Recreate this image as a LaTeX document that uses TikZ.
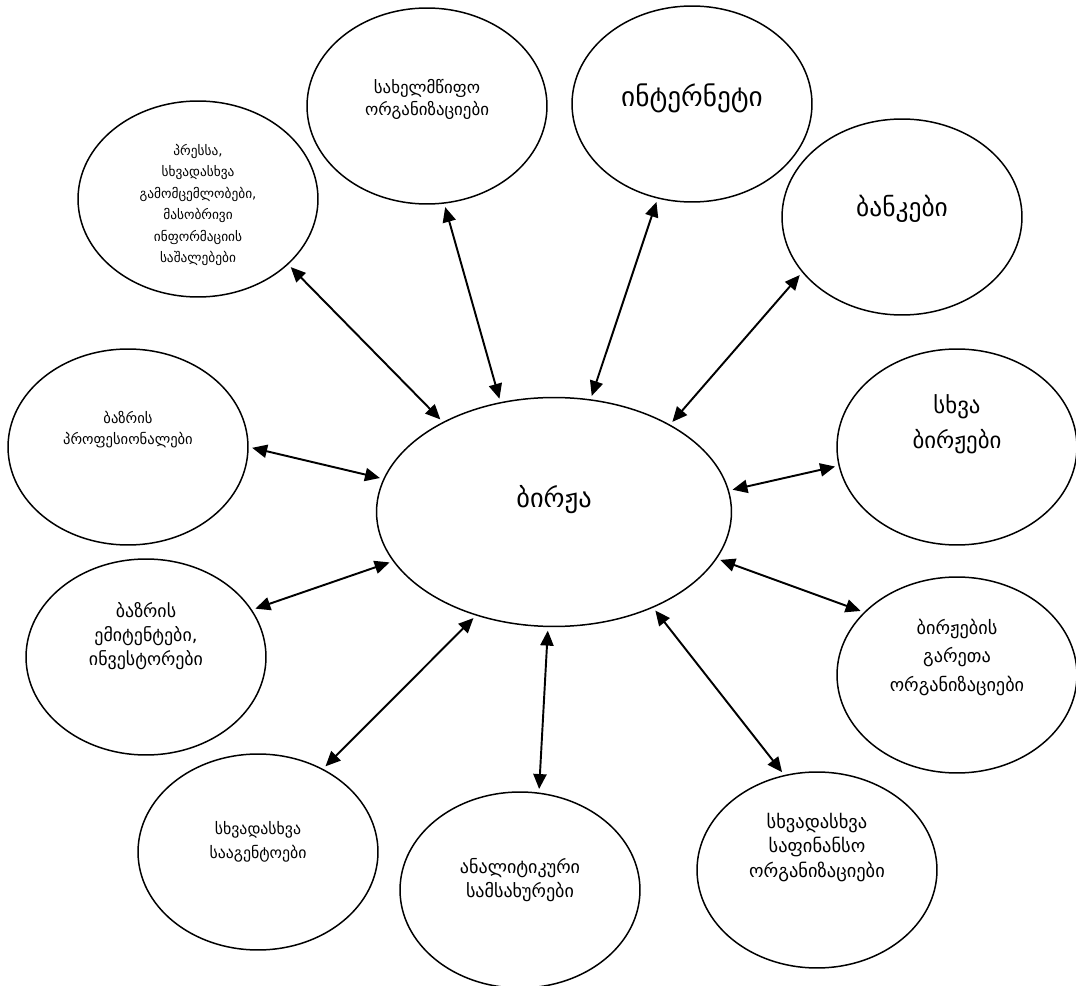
\documentclass[tikz,border=0pt]{standalone}
\usepackage{fontspec}
\setmainfont{DejaVu Sans}
\usetikzlibrary{arrows.meta,shapes.geometric}

\tikzset{
  bubble/.style={draw, ellipse, line width=0.85pt, minimum width=4.8cm, minimum height=3.92cm, inner sep=0pt},
  hub/.style={bubble, minimum width=7.1cm, minimum height=4.58cm},
  note/.style={align=center, inner sep=0pt},
  small/.style={note, font=\fontsize{9.6}{12.5}\selectfont},
  tiny/.style={note, font=\fontsize{7.6}{12.2}\selectfont},
  link/.style={<->, line width=1.1pt, shorten <=2pt, shorten >=2pt},
}

\begin{document}
\begin{tikzpicture}[x=0.02cm, y=-0.02cm, >={Triangle[length=8.5pt,width=7.5pt]}]
    \useasboundingbox (0,0) rectangle (1076,986);

    % === centre ===
    \node[hub] (birzha) at (554,512) {};
    \node[note, font=\fontsize{15}{19}\selectfont] (birzhaT) at ([yshift=6.8pt]birzha.center) {ბირჟა};

    % === partners ===
    \node[bubble] (gov) at (427,106) {};
    \node[small] (govT) at ([yshift=4pt]gov.center) {სახელმწიფო\\ორგანიზაციები};

    \node[bubble] (inet) at (692,104) {};
    \node[note, font=\fontsize{15.5}{17}\selectfont] (inetT) at ([yshift=3pt]inet.center) {ინტერნეტი};

    \node[bubble] (bank) at (902,217) {};
    \node[note, font=\fontsize{14.5}{17}\selectfont] (bankT) at ([yshift=4.5pt]bank.center) {ბანკები};

    \node[bubble] (press) at (198,199) {};
    \node[tiny] (pressT) at ([yshift=-3.4pt]press.center) {პრესსა,\\სხვადასხვა\\გამომცემლობები,\\მასობრივი\\ინფორმაციის\\საშალებები};

    \node[bubble] (prof) at (128,447) {};
    \node[note, font=\fontsize{8.3}{12}\selectfont] (profT) at ([yshift=9.7pt]prof.center) {ბაზრის\\პროფესიონალები};

    \node[bubble] (other) at (957,447) {};
    \node[note, font=\fontsize{13}{20}\selectfont] (otherT) at ([yshift=13pt]other.center) {სხვა\\ბირჟები};

    \node[bubble] (emit) at (146,657) {};
    \node[note, font=\fontsize{10.2}{13.6}\selectfont] (emitT) at ([yshift=12pt]emit.center) {ბაზრის\\ემიტენტები,\\ინვესტორები};

    \node[bubble] (outside) at (957,675) {};
    \node[note, font=\fontsize{10.4}{16}\selectfont] (outsideT) at ([yshift=10pt]outside.center) {ბირჟების\\გარეთა\\ორგანიზაციები};

    \node[bubble] (agent) at (258,852) {};
    \node[note, font=\fontsize{9}{14}\selectfont] (agentT) at ([yshift=5.7pt]agent.center) {სხვადასხვა\\სააგენტოები};

    \node[bubble] (analyt) at (520,890) {};
    \node[note, font=\fontsize{10.3}{14}\selectfont] (analytT) at ([yshift=5.7pt]analyt.center) {ანალიტიკური\\სამსახურები};

    \node[bubble] (fin) at (817,870) {};
    \node[note, font=\fontsize{10.5}{14}\selectfont] (finT) at ([yshift=13pt]fin.center) {სხვადასხვა\\საფინანსო\\ორგანიზაციები};

    % === links ===
    \draw[link] (press.-36.8) -- (birzha.141);
    \draw[link] (gov.-80.6) -- (birzha.116.4);
    \draw[link] (inet.-110.5) -- (birzha.72.6);
    \draw[link] (bank.-151.4) -- (birzha.37.2);
    \draw[link] (other.-171.4) -- (birzha.7.3);
    \draw[link] (outside.146.4) -- (birzha.-16.8);
    \draw[link] (fin.109.3) -- (birzha.-44.2);
    \draw[link] (analyt.79.6) -- (birzha.-93.5);
    \draw[link] (agent.52.9) -- (birzha.-127.3);
    \draw[link] (emit.24.3) -- (birzha.-163.8);
    \draw[link] (prof.0) -- (birzha.169.7);

\end{tikzpicture}
\end{document}
